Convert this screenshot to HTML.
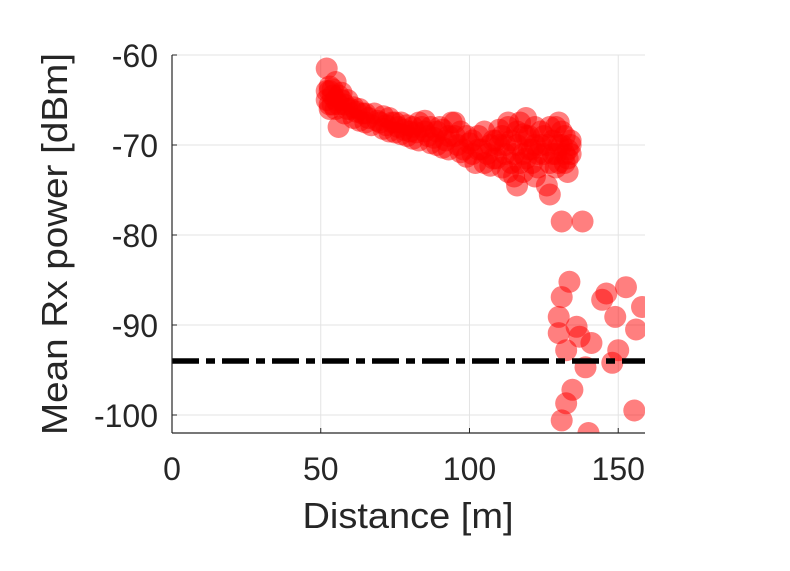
<!DOCTYPE html>
<html><head><meta charset="utf-8"><style>
body{margin:0;background:#fff;}
svg text{font-family:"Liberation Sans",sans-serif;fill:#262626;}
</style></head><body>
<svg id="chart" width="790" height="566" xmlns="http://www.w3.org/2000/svg">
<defs><clipPath id="clip"><rect x="172" y="55" width="473" height="378"/></clipPath></defs>
<g id="grid"></g>
<g id="points" clip-path="url(#clip)"></g>
<line id="thresh" stroke="#000" stroke-width="5.5" stroke-dasharray="27 7 9 7"/>
<g id="axes"></g>
<text x="408" y="528" font-size="36" text-anchor="middle" textLength="211" lengthAdjust="spacingAndGlyphs">Distance [m]</text>
<text transform="translate(67,244) rotate(-90)" font-size="36" text-anchor="middle" textLength="382" lengthAdjust="spacingAndGlyphs">Mean Rx power [dBm]</text>
</svg>
<script>
const xTicks=[0,50,100,150];
const yTicks=[-60,-70,-80,-90,-100];
const threshold=-94;
const distance=[52,52,52,53,53,54,54,55,55,56,56,57,58,59,60,62,64,66,68,70,72,74,76,78,80,82,84,85,86,88,90,92,94,95,96,98,100,101,103,104,105,107,108,110,111,112,113,114,115,116,116,117,118,119,120,121,122,123,124,125,126,127,128,129,130,131,132,132,133,134,133,131,138,
53,53,54,55,56,57,58,59,61,61,63,63,65,65,67,69,71,71,73,73,75,75,77,77,79,79,81,81,83,83,85,87,87,89,89,91,91,93,93,95,97,97,99,99,101,102,103,105,106,107,109,109,110,111,112,113,114,115,116,117,118,118,119,120,121,122,123,124,125,126,127,127,128,129,130,130,131,132,133,134,134,129,122,119,113,108,
133.6,131,130,130,136,141,139,134.6,132.5,131,140,155.4,144.6,152.6,158,149,156,148,150,132.5,137,146];
const power=[-61.5,-64,-65,-66,-63.5,-64.5,-65.5,-63,-66,-68,-64.5,-65,-65.5,-66,-66,-66.3,-66.5,-67,-66.5,-67.5,-67.8,-67.5,-68,-68.3,-68.5,-68.6,-68,-67.3,-69,-69.2,-68,-69.5,-67.5,-69,-70,-70.5,-69.8,-71,-69,-70.5,-72,-70,-71.5,-70,-69,-71,-68,-72,-73.5,-74.5,-70,-67.5,-71,-69,-70.5,-72,-73.5,-71,-70,-69,-74.5,-75.5,-71,-68,-67.5,-70,-72,-71,-70.5,-69.5,-73,-78.5,-78.5,
-64,-65.5,-63.8,-65,-65.5,-64.2,-66.5,-65,-65.8,-67,-66,-67.3,-66.5,-67.5,-67.8,-67.3,-66.8,-68.2,-67,-68.5,-67.5,-68.6,-67.5,-68.8,-67.8,-69,-68,-69.3,-67.5,-69.5,-68.5,-68,-69.8,-68.5,-70,-68.3,-70.3,-69,-70.5,-67.5,-68.5,-70.8,-69,-71.3,-69.5,-72,-70.5,-68.5,-71,-72.3,-69.5,-71.5,-68.3,-72.5,-70,-73,-69.5,-71,-68.5,-72,-73,-68.8,-71.5,-69,-70.5,-70,-72.5,-68.5,-71,-70,-72,-68,-69.5,-72.5,-70,-72,-68.5,-69,-71.5,-71,-70,-71,-68,-67,-67.5,-69.5,
-85.2,-86.9,-89.1,-90.9,-90.2,-92,-94.7,-97.2,-98.7,-100.6,-102,-99.5,-87.2,-85.8,-88,-89.1,-90.5,-94.2,-92.8,-92.8,-91.3,-86.5];
const L=172,R=645,T=55,B=433,xMin=0,xMax=159,yMin=-102,yMax=-60;
const sx=v=>L+(v-xMin)/(xMax-xMin)*(R-L);
const sy=v=>T+(yMax-v)/(yMax-yMin)*(B-T);
const NS="http://www.w3.org/2000/svg";
function mk(tag,attrs,parent){const e=document.createElementNS(NS,tag);for(const k in attrs)e.setAttribute(k,attrs[k]);parent.appendChild(e);return e;}
const grid=document.getElementById('grid'),axes=document.getElementById('axes'),pts=document.getElementById('points');
xTicks.forEach(t=>{
 const g=mk('line',{x1:sx(t),x2:sx(t),y1:T,y2:B,stroke:'#e3e3e3','stroke-width':1},grid);
 
 
 const tk=mk('line',{x1:sx(t),x2:sx(t),y1:B,y2:B-5,stroke:'#262626','stroke-width':1},axes);
 
 
 const tx=mk('text',{x:sx(t),y:B+47,'font-size':32,'text-anchor':'middle'},axes);
 tx.textContent=t;
 
 
});
yTicks.forEach(t=>{
 const g=mk('line',{x1:L,x2:R,y1:sy(t),y2:sy(t),stroke:'#e3e3e3','stroke-width':1},grid);
 
 
 const tk=mk('line',{x1:L,x2:L+5,y1:sy(t),y2:sy(t),stroke:'#262626','stroke-width':1},axes);
 
 
 const tx=mk('text',{x:L-14,y:sy(t)+12,'font-size':32,'text-anchor':'end'},axes);
 tx.textContent=t;
 
 
});
const xa=mk('line',{x1:L,x2:R,y1:B,y2:B,stroke:'#262626','stroke-width':1.2},axes);


const ya=mk('line',{x1:L,x2:L,y1:T,y2:B,stroke:'#262626','stroke-width':1.2},axes);


distance.forEach((d,i)=>{
 const c=mk('circle',{cx:sx(d),cy:sy(power[i]),r:11,fill:'#ff0000','fill-opacity':0.5},pts);
 
 
});
const th=document.getElementById('thresh');
th.setAttribute('x1',L);th.setAttribute('x2',R);
th.setAttribute('y1',sy(threshold));th.setAttribute('y2',sy(threshold));
</script>
</body></html>
